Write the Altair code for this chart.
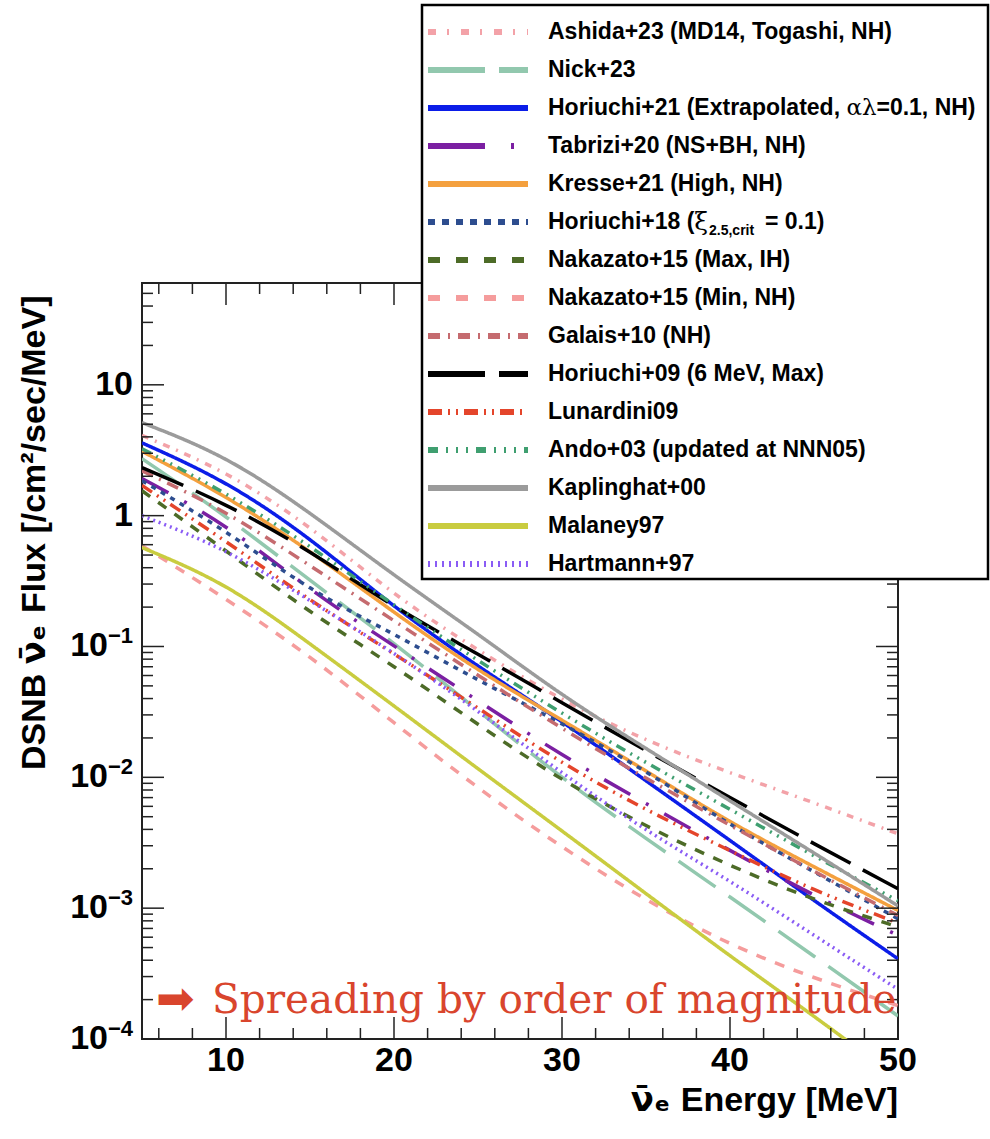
import altair as alt
import numpy as np
import pandas as pd

# ---------------------------------------------------------------- data
energy = [5, 10, 15, 20, 25, 30, 35, 40, 45, 50]  # MeV

ashida23 = [4.1, 2.2, 0.84, 0.245, 0.093, 0.0385, 0.019, 0.0108, 0.0064, 0.0037]
nick23 = [2.73, 1.0, 0.318, 0.107, 0.0323, 0.0098, 0.0034, 0.00122, 0.00043, 0.00015]
horiuchi21 = [3.6, 1.85, 0.68, 0.198, 0.070, 0.027, 0.0094, 0.0033, 0.00114, 0.00041]
tabrizi20 = [1.92, 0.87, 0.267, 0.101, 0.0385, 0.0146, 0.0063, 0.00275, 0.00124, 0.00062]
kresse21 = [3.1, 1.42, 0.54, 0.181, 0.065, 0.0275, 0.0112, 0.0045, 0.00207, 0.00096]
horiuchi18 = [1.85, 0.77, 0.267, 0.125, 0.055, 0.026, 0.0112, 0.0043, 0.0019, 0.00083]
nakazato15_max = [1.55, 0.54, 0.181, 0.0713, 0.0252, 0.0094, 0.0042, 0.0021, 0.00115, 0.00072]
nakazato15_min = [0.59, 0.232, 0.085, 0.026, 0.0082, 0.0029, 0.00114, 0.00052, 0.00029, 0.00018]
galais10 = [2.2, 1.09, 0.415, 0.157, 0.060, 0.0235, 0.0098, 0.0043, 0.0019, 0.00088]
horiuchi09 = [2.33, 1.24, 0.54, 0.198, 0.088, 0.037, 0.016, 0.0070, 0.0031, 0.00141]
lunardini09 = [1.70, 0.64, 0.224, 0.088, 0.034, 0.0127, 0.0056, 0.00275, 0.00136, 0.00077]
ando03 = [3.25, 1.5, 0.59, 0.205, 0.078, 0.0306, 0.0129, 0.0057, 0.0025, 0.00114]
kaplinghat00 = [5.14, 2.88, 1.06, 0.348, 0.125, 0.042, 0.0166, 0.0066, 0.00265, 0.00104]
malaney97 = [0.57, 0.307, 0.105, 0.0352, 0.0116, 0.0039, 0.00129, 0.00043, 0.00015, 0.00005]
hartmann97 = [1.0, 0.56, 0.224, 0.09, 0.0323, 0.0107, 0.0039, 0.00162, 0.00062, 0.00024]

series = [
    "Ashida+23", "Nick+23", "Horiuchi+21", "Tabrizi+20", "Kresse+21",
    "Horiuchi+18", "Nakazato+15 Max", "Nakazato+15 Min", "Galais+10",
    "Horiuchi+09", "Lunardini09", "Ando+03", "Kaplinghat+00", "Malaney97",
    "Hartmann+97",
]
curves = [
    ashida23, nick23, horiuchi21, tabrizi20, kresse21, horiuchi18,
    nakazato15_max, nakazato15_min, galais10, horiuchi09, lunardini09,
    ando03, kaplinghat00, malaney97, hartmann97,
]
legend_labels = [
    "Ashida+23 (MD14, Togashi, NH)",
    "Nick+23",
    "Horiuchi+21 (Extrapolated,",
    "Tabrizi+20 (NS+BH, NH)",
    "Kresse+21 (High, NH)",
    "Horiuchi+18 (",
    "Nakazato+15 (Max, IH)",
    "Nakazato+15 (Min, NH)",
    "Galais+10 (NH)",
    "Horiuchi+09 (6 MeV, Max)",
    "Lunardini09",
    "Ando+03 (updated at NNN05)",
    "Kaplinghat+00",
    "Malaney97",
    "Hartmann+97",
]
x_tick_labels = [10, 20, 30, 40, 50]

# ---------------------------------------------------------------- styles
colors = [
    "#f3a2a8", "#92c8ae", "#0b1de8", "#7b1fa2", "#f4a03e",
    "#2d4d8f", "#4d6b27", "#f59c9c", "#c56b6f", "#000000",
    "#e4452b", "#3f9f70", "#9b9b9b", "#c9cc3f", "#8a5cf5",
]
plot_dash = [
    [7, 7, 2, 7], [45, 16], [1, 0], [30, 18, 3, 18], [1, 0],
    [5, 6], [10, 10], [10, 10], [12, 7, 2, 7], [45, 14],
    [12, 6, 2, 6, 2, 6], [10, 6, 2, 6, 2, 6, 2, 6], [1, 0], [1, 0], [2, 4],
]
legend_dash = [
    [8, 11, 2, 12], [57, 14], [1, 0], [57, 26, 3, 30], [1, 0],
    [7, 7], [12, 16], [12, 16], [12, 8, 2, 8], [57, 14],
    [14, 6, 2, 6, 2, 6], [10, 8, 2, 8, 2, 8, 2, 8], [1, 0], [1, 0], [2, 5],
]

W = H = 756
SANS = "Liberation Sans"
GREEK = "DejaVu Sans"
SERIF = "DejaVu Serif"
INK = "#222222"

xs = alt.Scale(domain=[5, 50], nice=False, zero=False)
ys = alt.Scale(type="log", domain=[1e-4, 60], nice=False)
color_scale = alt.Scale(domain=series, range=colors)

# ---------------------------------------------------------------- curves
rows = []
for name, vals in zip(series, curves):
    for e, v in zip(energy, vals):
        rows.append({"series": name, "E": e, "flux": v})
df = pd.DataFrame(rows)

lines = alt.Chart(df).mark_line(clip=True, interpolate="basis", strokeWidth=3.5).encode(
    x=alt.X("E:Q", scale=xs, axis=None),
    y=alt.Y("flux:Q", scale=ys, axis=None),
    color=alt.Color("series:N", scale=color_scale, legend=None),
    strokeDash=alt.StrokeDash(
        "series:N", scale=alt.Scale(domain=series, range=plot_dash), legend=None
    ),
)

# ---------------------------------------------------------------- frame ticks (inward, mirrored on all four sides)
x_major = pd.DataFrame({"E": [10, 20, 30, 40]})
x_minor = pd.DataFrame({"E": [e for e in range(6, 50, 2) if e % 10]})
y_major = pd.DataFrame({"v": [10.0 ** d for d in range(-4, 2)]})
y_minor = pd.DataFrame(
    {"v": [k * 10.0 ** d for d in range(-4, 2) for k in range(2, 10) if k * 10.0 ** d <= 60]}
)


def xticks(data, length):
    base = alt.Chart(data).mark_rule(color=INK, strokeWidth=1.5)
    enc_x = alt.X("E:Q", scale=xs, axis=None)
    bottom = base.encode(x=enc_x, y=alt.value(H), y2=alt.value(H - length))
    top = base.encode(x=enc_x, y=alt.value(0), y2=alt.value(length))
    return bottom + top


def yticks(data, length):
    base = alt.Chart(data).mark_rule(color=INK, strokeWidth=1.5)
    enc_y = alt.Y("v:Q", scale=ys, axis=None)
    left = base.encode(y=enc_y, x=alt.value(0), x2=alt.value(length))
    right = base.encode(y=enc_y, x=alt.value(W), x2=alt.value(W - length))
    return left + right


ticks = xticks(x_major, 22) + xticks(x_minor, 11) + yticks(y_major, 22) + yticks(y_minor, 11)

# ---------------------------------------------------------------- tick labels
label_style = dict(font=SANS, fontWeight="bold", color="black", baseline="middle")

xlab = alt.Chart(pd.DataFrame({"E": x_tick_labels})).mark_text(
    align="center", fontSize=34, **label_style
).encode(x=alt.X("E:Q", scale=xs, axis=None), y=alt.value(H + 22), text="E:Q")

plain_labels = pd.DataFrame({"v": [10.0, 1.0], "t": ["10", "1"]})
exp_labels = pd.DataFrame(
    {"v": [0.1, 0.01, 0.001, 0.0001], "t": ["\u22121", "\u22122", "\u22123", "\u22124"]}
)
ylab_plain = alt.Chart(plain_labels).mark_text(align="right", fontSize=34, **label_style).encode(
    x=alt.value(-9), y=alt.Y("v:Q", scale=ys, axis=None), text="t:N"
)
ylab_base = alt.Chart(exp_labels).mark_text(align="right", fontSize=34, **label_style).encode(
    x=alt.value(-34), y=alt.Y("v:Q", scale=ys, axis=None), text=alt.value("10")
)
ylab_exp = alt.Chart(exp_labels).mark_text(align="left", fontSize=22, dy=-10, **label_style).encode(
    x=alt.value(-34), y=alt.Y("v:Q", scale=ys, axis=None), text="t:N"
)

# ---------------------------------------------------------------- axis titles (pieces: sans text + Greek symbol)
TITLE_SIZE = 34
nubar_e = "\u03bd\u0304\u2091"


def text_piece(txt, x, y, font=SANS, size=TITLE_SIZE, align="left", angle=0,
               weight="bold", color="black"):
    return alt.Chart(pd.DataFrame({"t": [txt]})).mark_text(
        font=font, fontSize=size, fontWeight=weight, align=align, baseline="middle",
        angle=angle, color=color,
    ).encode(text="t:N", x=alt.value(x), y=alt.value(y))


# y title reads bottom-to-top starting at y0
y0, yx = 487, -107
yt_dsnb = text_piece("DSNB", yx, y0, angle=270)
yt_nu = text_piece(nubar_e, yx, y0 - 3.111 * TITLE_SIZE, font=GREEK, angle=270)
yt_rest = text_piece("Flux [/cm\u00b2/sec/MeV]", yx, y0 - 4.62 * TITLE_SIZE, angle=270)

XT_Y = 818
xt_rest = text_piece("Energy [MeV]", W, XT_Y, align="right")
xt_nu = text_piece(nubar_e, W - 6.7 * TITLE_SIZE, XT_Y, font=GREEK, align="right")

# ---------------------------------------------------------------- annotation
RED = "#d9452d"
arrow = text_piece("\u27a1", 14, 717, font="DejaVu Sans", size=46, weight="normal", color=RED)
note = alt.Chart(pd.DataFrame({"t": ["Spreading by order of magnitude"]})).mark_text(
    font=SERIF, fontSize=40.5, color=RED, align="left", baseline="alphabetic"
).encode(text="t:N", x=alt.value(70), y=alt.value(730))

plot = alt.layer(
    lines, ticks, xlab, ylab_plain, ylab_base, ylab_exp,
    yt_dsnb, yt_nu, yt_rest, xt_rest, xt_nu, arrow, note,
)

# ---------------------------------------------------------------- legend box
leg = pd.DataFrame({"series": series, "label": legend_labels, "row": list(range(len(series)))})
row_scale = alt.Scale(domain=[0, len(series) - 1], range=[-251, 281])
LEG_SIZE = 23
LEG_X = 406

box = alt.Chart(pd.DataFrame({"a": [0]})).mark_rect(
    fill="white", stroke="black", strokeWidth=2.5
).encode(x=alt.value(280), x2=alt.value(846), y=alt.value(-278), y2=alt.value(296))

samples = alt.Chart(leg).mark_rule(strokeWidth=6).encode(
    x=alt.value(286), x2=alt.value(386),
    y=alt.Y("row:Q", scale=row_scale, axis=None),
    color=alt.Color("series:N", scale=color_scale, legend=None),
    strokeDash=alt.StrokeDash(
        "series:N", scale=alt.Scale(domain=series, range=legend_dash), legend=None
    ),
)
leg_text = alt.Chart(leg).mark_text(
    align="left", baseline="middle", font=SANS, fontSize=LEG_SIZE, fontWeight="bold", color="black"
).encode(x=alt.value(LEG_X), y=alt.Y("row:Q", scale=row_scale, axis=None), text="label:N")


def row_piece(row, txt, x, font, size, weight="bold", dy=0):
    return alt.Chart(pd.DataFrame({"row": [row]})).mark_text(
        align="left", baseline="middle", font=font, fontSize=size, fontWeight=weight,
        color="black", dy=dy,
    ).encode(x=alt.value(x), y=alt.Y("row:Q", scale=row_scale, axis=None), text=alt.value(txt))


# Horiuchi+21: Greek symbols in a light serif face
al_sym = row_piece(2, "\u03b1\u03bb", LEG_X + 12.976 * LEG_SIZE, SERIF, LEG_SIZE, weight="normal")
al_rest = row_piece(2, "=0.1, NH)", LEG_X + 12.976 * LEG_SIZE + 30, SANS, LEG_SIZE)
# Horiuchi+18: xi with a subscript
xi_sym = row_piece(5, "\u03be", LEG_X + 6.363 * LEG_SIZE, SERIF, 25, weight="normal")
xi_sub = row_piece(5, "2.5,crit", 567, SANS, 14, dy=9)
xi_rest = row_piece(5, "= 0.1)", 623, SANS, LEG_SIZE)

legend = alt.layer(box, samples, leg_text, al_sym, al_rest, xi_sym, xi_sub, xi_rest)

chart = (
    alt.layer(plot, legend)
    .resolve_scale(y="independent", strokeDash="independent")
    .properties(
        width=W,
        height=H,
        padding={"left": 142, "top": 283, "right": 92, "bottom": 100},
        autosize=alt.AutoSizeParams(type="none"),
        background="white",
    )
    .configure_view(stroke=INK, strokeWidth=2)
)

chart.save("out.html", embed_options={"renderer": "svg", "actions": False})
